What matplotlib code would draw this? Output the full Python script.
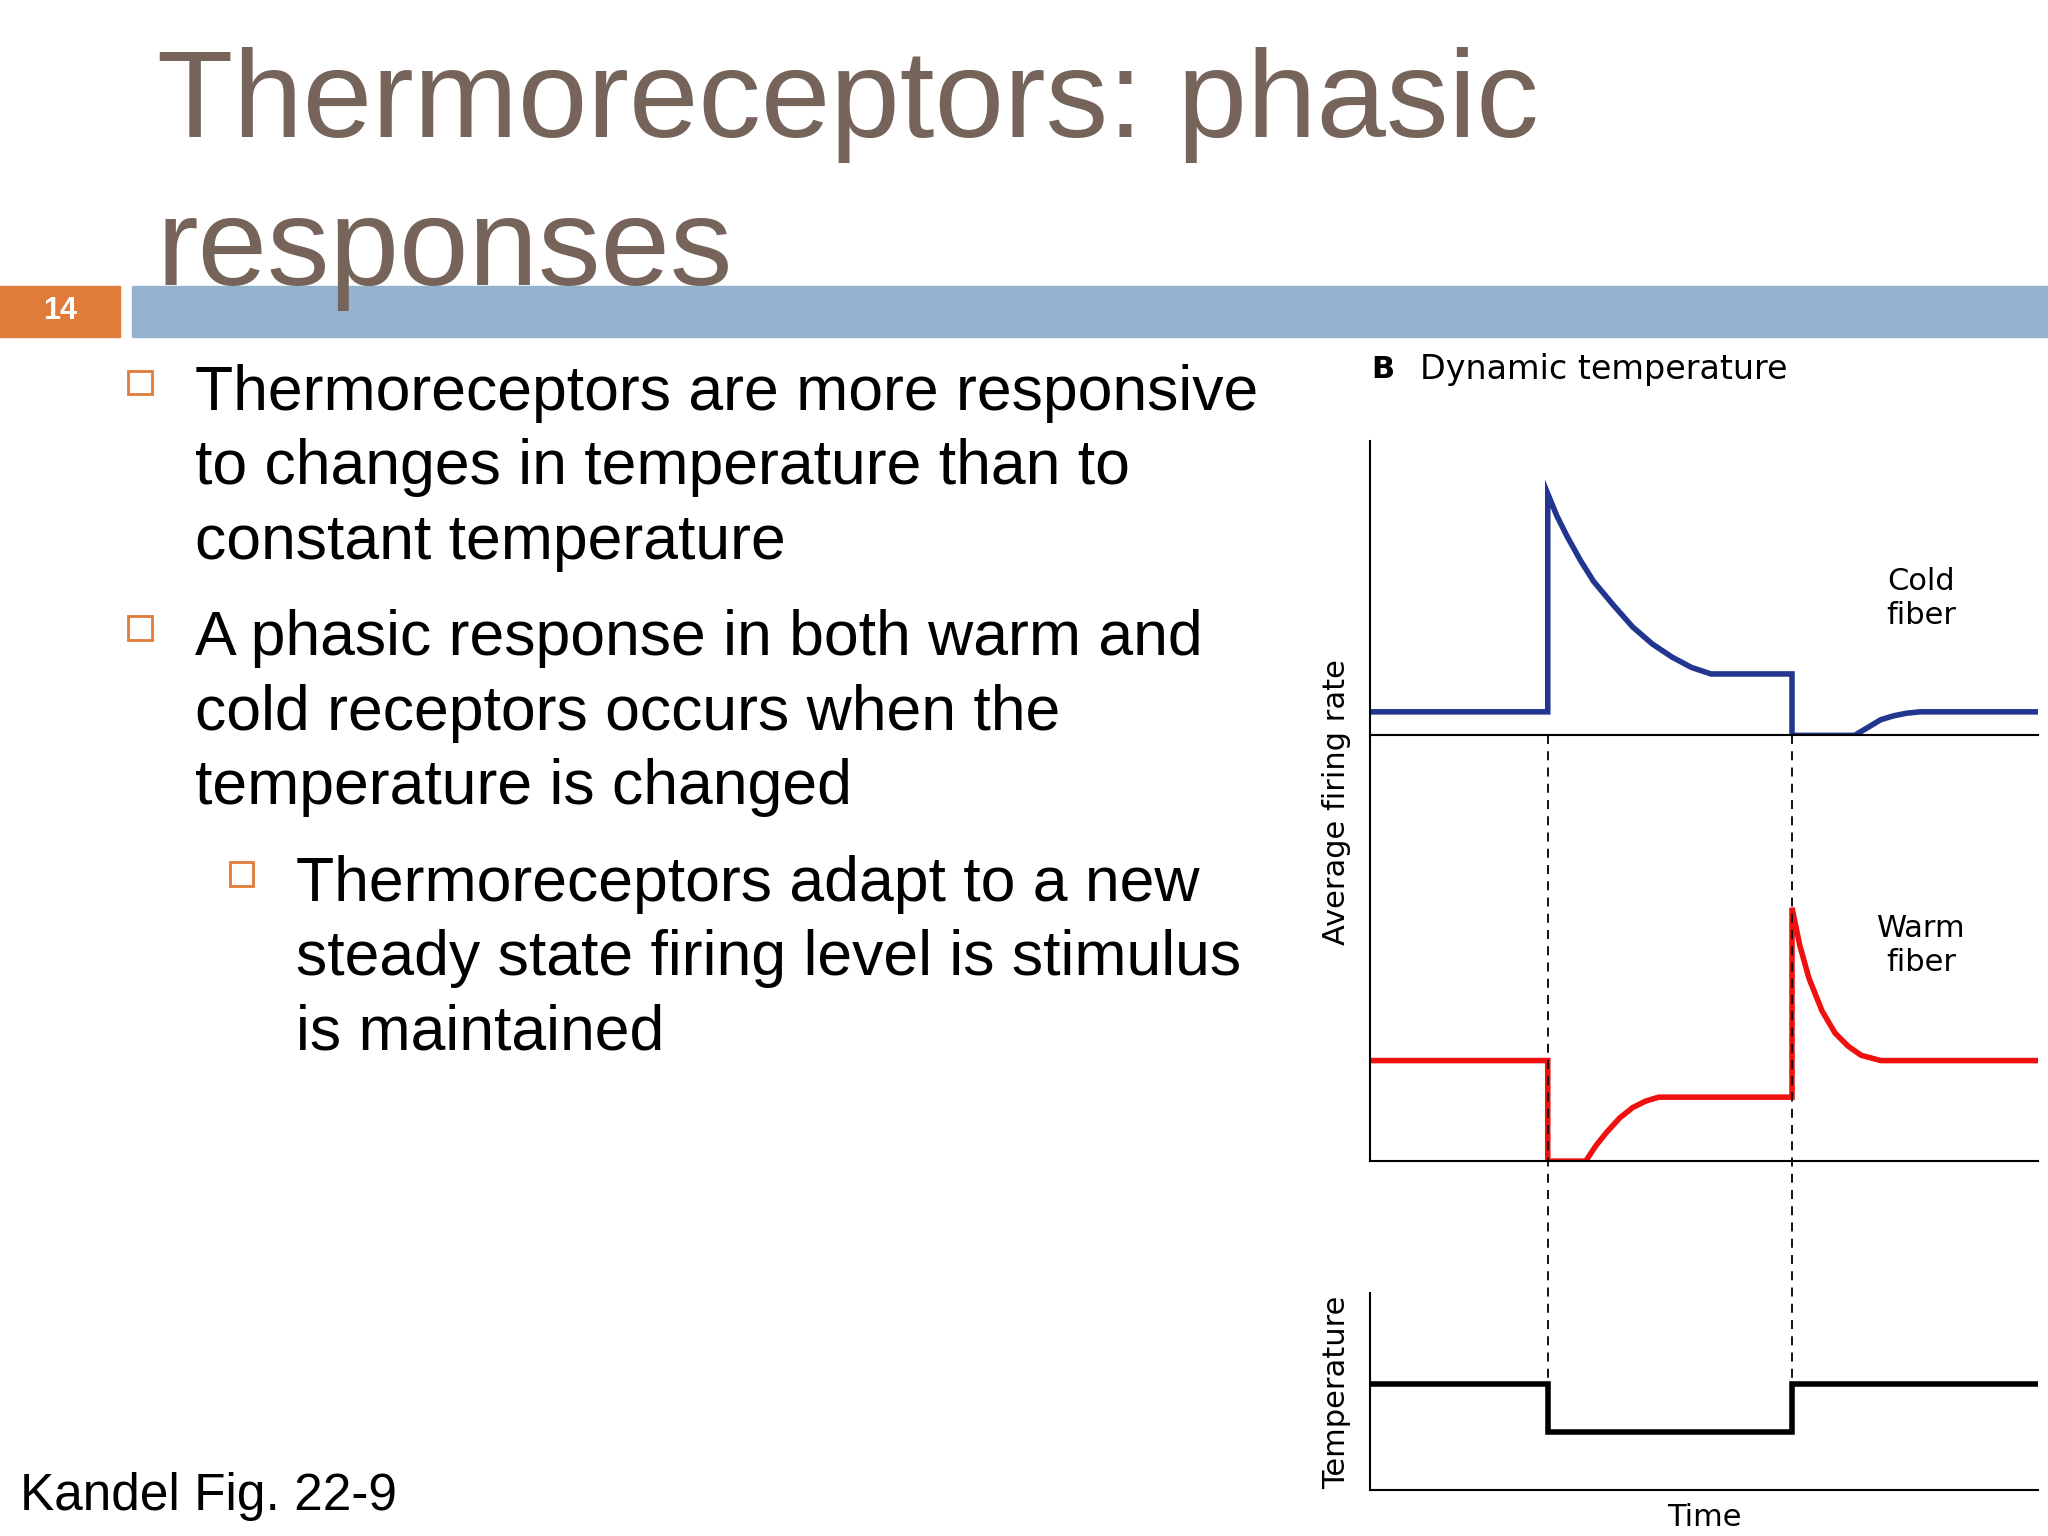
import matplotlib.pyplot as plt
from matplotlib.patches import Rectangle
from matplotlib.lines import Line2D

plt.rcParams['font.family'] = ['Liberation Sans', 'DejaVu Sans']

# reference layout measured on a 1568x1176 view
W, H = 1568.0, 1176.0
def fx(x): return x / W
def fy(y): return 1 - y / H

# ---- data (x in px of the view, y = height above panel baseline) ----
cold_x = [1049, 1185, 1185, 1192, 1200, 1210, 1220, 1235, 1250, 1265, 1280, 1295, 1310, 1320, 1372, 1372,
          1420, 1430, 1440, 1450, 1460, 1470, 1480, 1560]
cold_y = [18, 18, 185, 168, 152, 134, 118, 100, 83, 70, 60, 52, 47, 47, 47, 0,
          0, 6, 12, 15, 17, 18, 18, 18]
warm_x = [1049, 1185, 1185, 1214, 1222, 1230, 1240, 1250, 1260, 1270, 1372, 1372, 1378, 1385, 1395, 1405,
          1415, 1425, 1440, 1560]
warm_y = [77, 77, 0, 0, 12, 22, 33, 41, 46, 49, 49, 194, 165, 140, 115, 98,
          88, 81, 77, 77]
temp_x = [1049, 1185, 1185, 1372, 1372, 1560]
temp_y = [81, 81, 45, 45, 81, 81]
steps = [1185, 1372]

fig = plt.figure(figsize=(20.48, 15.36), dpi=100)

# title
fig.text(fx(120), fy(105), "Thermoreceptors: phasic", fontsize=90, color='#76645A', ha='left', va='baseline')
fig.text(fx(120), fy(218), "responses", fontsize=90, color='#76645A', ha='left', va='baseline', zorder=3)

# header bars
fig.patches.append(Rectangle((0, fy(258)), fx(92), (258 - 219) / H, transform=fig.transFigure,
                             color='#E07B39', zorder=0))
fig.patches.append(Rectangle((fx(101), fy(258)), 1 - fx(101), (258 - 219) / H, transform=fig.transFigure,
                             color='#93B3CF', zorder=0))
fig.text(fx(46), fy(238), "14", color='white', fontsize=22, fontweight='bold', ha='center', va='center')

# bullets
bullets = [
    (107, 149, 301, ["Thermoreceptors are more responsive", "to changes in temperature than to",
                     "constant temperature"]),
    (107, 149, 489, ["A phasic response in both warm and", "cold receptors occurs when the",
                     "temperature is changed"]),
    (185, 227, 677, ["Thermoreceptors adapt to a new", "steady state firing level is stimulus",
                     "is maintained"]),
]
for bx, tx, ty, lines in bullets:
    s = 18
    fig.patches.append(Rectangle((fx(bx - s / 2), fy(ty - 8 + s / 2)), s / W, s / H,
                                 transform=fig.transFigure, fill=False, edgecolor='#E07B39', lw=2))
    for i, ln in enumerate(lines):
        fig.text(fx(tx), fy(ty + i * 57), ln, fontsize=45, ha='left', va='center', color='black')

fig.text(fx(15), fy(1146), "Kandel Fig. 22-9", fontsize=37, ha='left', va='center')

# chart panels
x0, x1 = 1049, 1560
def panel(top, base, xs, ys, color, lw):
    ax = fig.add_axes([fx(x0), fy(base), (x1 - x0) / W, (base - top) / H])
    ax.plot(xs, ys, color=color, lw=lw, solid_joinstyle='miter')
    ax.set_xlim(x0, x1)
    ax.set_ylim(0, base - top)
    ax.set_xticks([]); ax.set_yticks([])
    for sp in ['top', 'right']:
        ax.spines[sp].set_visible(False)
    for sp in ['left', 'bottom']:
        ax.spines[sp].set_linewidth(1.5)
    ax.patch.set_alpha(0)
    return ax

panel(338, 563, cold_x, cold_y, '#22358F', 4)
panel(563, 889, warm_x, warm_y, '#F01010', 4)
panel(990, 1141, temp_x, temp_y, 'black', 4)

for sx in steps:
    fig.lines.append(Line2D([fx(sx), fx(sx)], [fy(563), fy(1096)], transform=fig.transFigure,
                            color='black', lw=1.3, ls=(0, (5, 4))))

lab = dict(family='DejaVu Sans', fontsize=22)
fig.text(fx(1050), fy(283), "B", fontweight='bold', ha='left', va='center', **lab)
fig.text(fx(1087), fy(283), "Dynamic temperature", ha='left', va='center', fontsize=24, family='DejaVu Sans')
fig.text(fx(1471), fy(458), "Cold\nfiber", ha='center', va='center', **lab)
fig.text(fx(1471), fy(724), "Warm\nfiber", ha='center', va='center', **lab)
fig.text(fx(1023), fy(614), "Average firing rate", rotation=90, ha='center', va='center', **lab)
fig.text(fx(1023), fy(1066), "Temperature", rotation=90, ha='center', va='center', **lab)
fig.text(fx(1305), fy(1162), "Time", ha='center', va='center', **lab)

fig.savefig("out.png", dpi=100)
